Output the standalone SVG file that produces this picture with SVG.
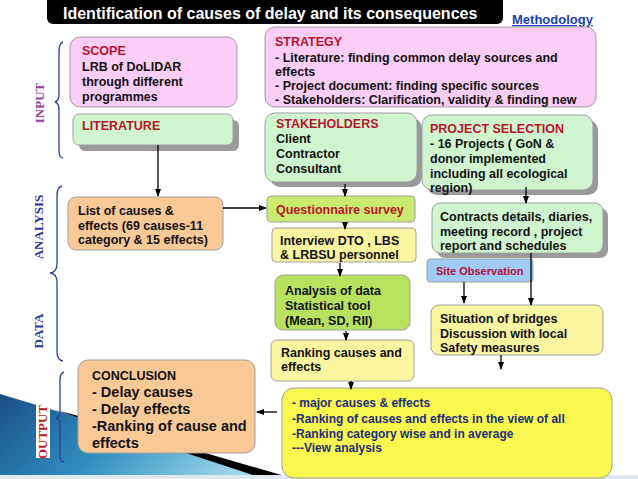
<svg xmlns="http://www.w3.org/2000/svg" width="638" height="479" viewBox="0 0 638 479">
<defs>
<linearGradient id="teal" x1="0" y1="0" x2="1" y2="0.3">
<stop offset="0" stop-color="#1a4f86"/>
<stop offset="0.5" stop-color="#2f8fbf"/>
<stop offset="1" stop-color="#9ed8ea"/>
</linearGradient>
<marker id="ah" viewBox="0 0 8 8" refX="7" refY="4" markerWidth="8" markerHeight="8" markerUnits="userSpaceOnUse" orient="auto">
<path d="M0,1 L8,4 L0,7 Z" fill="#000"/>
</marker>
</defs>
<style>
text{font-family:"Liberation Sans",Arial,sans-serif;font-weight:bold;font-size:12.5px;fill:#111}
.red{fill:#b8142a}
.box{stroke:#a0a0a0;stroke-width:1}
.pink{fill:#fbcdf7}
.green{fill:#d0f6d0}
.shadow{fill:#9a9a9a}
.orange{fill:#fbc995}
.lime{fill:#cbeb70}
.lgreen{fill:#b8e25e}
.yel{fill:#fbf69f}
.byel{fill:#f8f84e}
.blue{fill:#9fcbf5}
.lab{font-family:"Liberation Serif","Times New Roman",serif;font-size:13px;font-weight:bold}
.conn line,.conn path{stroke:#000;stroke-width:1.3;fill:none}
.brace{stroke:#2a3f9a;stroke-width:1.3;fill:none}
.navy{fill:#1e2d7a}
</style>
<rect width="638" height="479" fill="#fff"/>
<g id="background">
<polygon points="0,394 60,412 290,479 0,479" fill="url(#teal)"/>
<polygon points="55,410 75,415 295,479 265,479" fill="#000"/>
<rect x="0" y="475" width="638" height="4" fill="#dfe8ee"/>
</g>
<g id="title">
<rect x="47" y="-6" width="456" height="30" rx="6" fill="#000"/>
<text x="63" y="19" style="fill:#fff;font-size:16px">Identification of causes of delay and its consequences</text>
</g>
<g id="methodology">
<text x="512" y="24" style="fill:#1a3fb0;font-size:13px;text-decoration:underline">Methodology</text>
</g>
<g id="labels">
<text class="lab" transform="translate(44,103) rotate(-90)" text-anchor="middle" style="fill:#9b3d9b">INPUT</text>
<text class="lab" transform="translate(43,227) rotate(-90)" text-anchor="middle" style="fill:#1f3a9a">ANALYSIS</text>
<text class="lab" transform="translate(43,331) rotate(-90)" text-anchor="middle" style="fill:#1f3a9a">DATA</text>
<rect x="36" y="405" width="14" height="53" fill="#fff"/>
<text class="lab" transform="translate(47,432) rotate(-90)" text-anchor="middle" style="fill:#c0182a">OUTPUT</text>
<path class="brace" d="M63,42 Q59,43 59,52 L59,94 Q59,101 55,102 Q59,103 59,110 L59,150 Q59,158 63,158"/>
<path class="brace" d="M62,186 Q57,187 57,196 L57,264 Q57,272 50,273 Q57,274 57,282 L57,352 Q57,360 63,361"/>
<path class="brace" d="M64,372 Q60,373 60,380 L60,411 Q60,417 56,418 Q60,419 60,425 L60,455 Q60,462 64,462"/>
</g>
<g id="scope">
<rect class="box pink" x="70" y="37" width="167" height="70" rx="10"/>
<text x="82" y="55" class="red">SCOPE</text>
<text x="82" y="71">LRB of DoLIDAR</text>
<text x="82" y="86">through different</text>
<text x="82" y="101">programmes</text>
</g>
<g id="strategy">
<rect class="box pink" x="265" y="27" width="331" height="80" rx="10"/>
<text x="275" y="46" class="red">STRATEGY</text>
<text x="275" y="62">- Literature: finding common delay sources and</text>
<text x="275" y="76">effects</text>
<text x="275" y="90">- Project document: finding specific sources</text>
<text x="275" y="104">- Stakeholders: Clarification, validity &amp; finding new</text>
</g>
<g id="literature">
<rect class="shadow" x="79" y="120" width="160" height="31" rx="6"/>
<rect class="box green" x="73" y="114" width="160" height="31" rx="6"/>
<text x="82" y="130" class="red">LITERATURE</text>
</g>
<g id="stakeholders">
<rect class="shadow" x="270" y="118" width="152" height="69" rx="10"/>
<rect class="box green" x="265" y="113" width="152" height="69" rx="10"/>
<text x="276" y="128" class="red">STAKEHOLDERS</text>
<text x="276" y="143">Client</text>
<text x="276" y="158">Contractor</text>
<text x="276" y="173">Consultant</text>
</g>
<g id="project-selection">
<rect class="shadow" x="427" y="120" width="171" height="75" rx="10"/>
<rect class="box green" x="422" y="115" width="171" height="75" rx="10"/>
<text x="430" y="133" class="red">PROJECT SELECTION</text>
<text x="430" y="148">- 16 Projects ( GoN &amp;</text>
<text x="430" y="163">donor implemented</text>
<text x="430" y="178">including all ecological</text>
<text x="430" y="192">region)</text>
</g>
<g id="list-causes">
<rect class="box orange" x="68" y="197" width="155" height="53" rx="8"/>
<text x="78" y="215">List of causes &amp;</text>
<text x="78" y="230">effects (69 causes-11</text>
<text x="78" y="244">category &amp; 15 effects)</text>
</g>
<g id="questionnaire">
<rect class="box lime" x="267" y="196" width="148" height="26" rx="4"/>
<text x="276" y="214" class="red">Questionnaire survey</text>
</g>
<g id="contracts">
<rect class="shadow" x="437" y="208" width="171" height="50" rx="8"/>
<rect class="box green" x="432" y="203" width="171" height="50" rx="8"/>
<text x="440" y="221">Contracts details, diaries,</text>
<text x="440" y="236">meeting record , project</text>
<text x="440" y="250">report and schedules</text>
</g>
<g id="interview">
<rect class="box yel" x="272" y="228" width="144" height="34" rx="4"/>
<text x="280" y="245">Interview DTO , LBS</text>
<text x="280" y="259">&amp; LRBSU personnel</text>
</g>
<g id="site-observation">
<rect class="box blue" x="427" y="259" width="106" height="23" rx="3"/>
<text x="436" y="275" class="red" style="font-size:11px;fill:#b0103c">Site Observation</text>
</g>
<g id="analysis">
<rect class="box lgreen" x="275" y="275" width="135" height="55" rx="8"/>
<text x="285" y="295">Analysis of data</text>
<text x="285" y="310">Statistical tool</text>
<text x="285" y="325">(Mean, SD, RII)</text>
</g>
<g id="situation">
<rect class="box yel" x="431" y="305" width="172" height="50" rx="8"/>
<text x="440" y="323">Situation of bridges</text>
<text x="440" y="338">Discussion with local</text>
<text x="440" y="352">Safety measures</text>
</g>
<g id="ranking">
<rect class="box yel" x="271" y="340" width="143" height="41" rx="6"/>
<text x="281" y="357">Ranking  causes and</text>
<text x="281" y="371">effects</text>
</g>
<g id="conclusion">
<rect class="box orange" x="78" y="360" width="177" height="93" rx="10"/>
<text x="92" y="380">CONCLUSION</text>
<text x="92" y="397" style="font-size:14.5px">- Delay causes</text>
<text x="92" y="414" style="font-size:14.5px">- Delay effects</text>
<text x="92" y="431" style="font-size:14.5px">-Ranking of cause and</text>
<text x="92" y="448" style="font-size:14.5px">effects</text>
</g>
<g id="output-summary">
<rect class="box byel" x="282" y="388" width="330" height="90" rx="12"/>
<text x="292" y="407" class="navy" style="font-size:12px">- major causes &amp; effects</text>
<text x="292" y="423" class="navy" style="font-size:12px">-Ranking of causes and effects in the view of all</text>
<text x="292" y="438" class="navy" style="font-size:12px">-Ranking category wise and in average</text>
<text x="292" y="452" class="navy" style="font-size:12px">---View analysis</text>
</g>
<g id="connectors" class="conn">
<line x1="158" y1="145" x2="158" y2="196" marker-end="url(#ah)"/>
<line x1="223" y1="208" x2="266" y2="208" marker-end="url(#ah)"/>
<line x1="345" y1="184" x2="345" y2="196" marker-end="url(#ah)"/>
<line x1="526" y1="187" x2="526" y2="203" marker-end="url(#ah)"/>
<line x1="345" y1="222" x2="345" y2="229" marker-end="url(#ah)"/>
<line x1="340" y1="263" x2="340" y2="276" marker-end="url(#ah)"/>
<line x1="346" y1="331" x2="346" y2="340" marker-end="url(#ah)"/>
<line x1="351" y1="381" x2="351" y2="389" marker-end="url(#ah)"/>
<line x1="531" y1="253" x2="531" y2="305" marker-end="url(#ah)"/>
<line x1="464" y1="282" x2="464" y2="303" marker-end="url(#ah)"/>
<line x1="501" y1="355" x2="501" y2="369" marker-end="url(#ah)"/>
<line x1="277" y1="412" x2="257" y2="412" marker-end="url(#ah)"/>
</g>
</svg>
